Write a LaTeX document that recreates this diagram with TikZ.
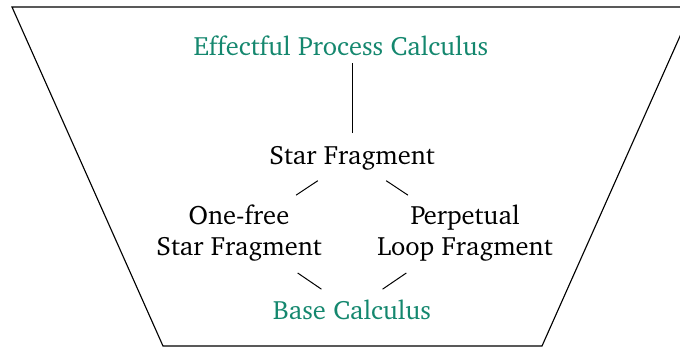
\documentclass[tikz,border=0pt]{standalone}
\usepackage[T1]{fontenc}
\renewcommand{\rmdefault}{bch}
\definecolor{teal}{RGB}{20,135,110}
\tikzset{
  lbl/.style={font=\fontsize{10.6}{12.5}\selectfont, align=center, inner sep=0pt},
  conn/.style={line width=0.4pt, black},
}
\begin{document}
\begin{tikzpicture}[x=0.4pt,y=-0.4pt]
\useasboundingbox (0,0) rectangle (680,349);
\begin{scope}
  \clip (0,0) rectangle (680,349);
  \draw[line width=0.45pt] (12,7) -- (693,7) -- (542,346) -- (163,346) -- cycle;
\end{scope}
\node[lbl, text=teal] (top) at (341,46) {Effectful Process Calculus};
\node[lbl] (star) at (352,158) {Star Fragment};
\node[lbl] (onefree) at (239,233) {One-free\\Star Fragment};
\node[lbl] (perp) at (465,233) {Perpetual\\Loop Fragment};
\node[lbl, text=teal] (base) at (352,310) {Base Calculus};
\coordinate (topfoot) at (star.center |- top.center);
\draw[conn, shorten <=10pt, shorten >=6.8pt] (star.center) -- (topfoot);
\draw[conn, shorten <=16.4pt, shorten >=27.4pt] (star.center) -- (onefree.center);
\draw[conn, shorten <=16.4pt, shorten >=27.4pt] (star.center) -- (perp.center);
\draw[conn, shorten <=14.8pt, shorten >=28.4pt] (base.center) -- (onefree.center);
\draw[conn, shorten <=14.8pt, shorten >=28.4pt] (base.center) -- (perp.center);
\end{tikzpicture}
\end{document}
